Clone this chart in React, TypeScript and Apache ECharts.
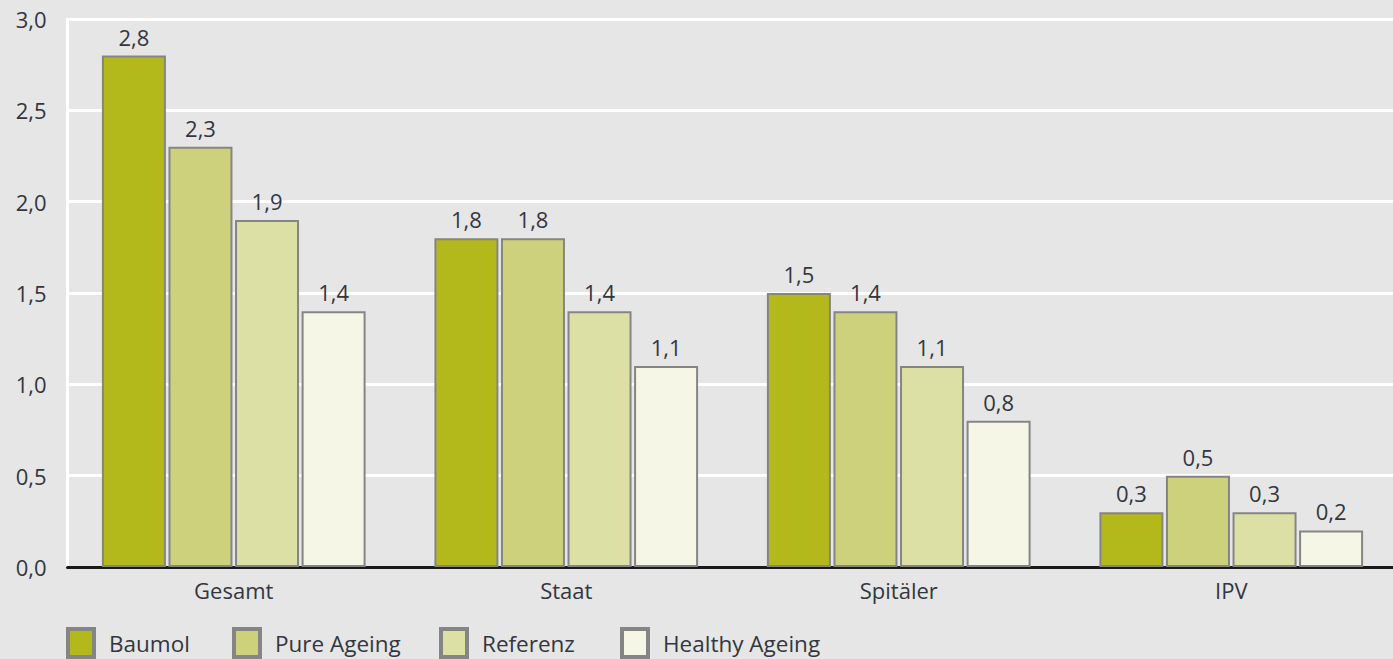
import React, { useEffect, useRef } from "react";
import * as echarts from "echarts";

const categories = ["Gesamt", "Staat", "Spitäler", "IPV"];
const seriesNames = ["Baumol", "Pure Ageing", "Referenz", "Healthy Ageing"];
const baumol = [2.8, 1.8, 1.5, 0.3];
const pureAgeing = [2.3, 1.8, 1.4, 0.5];
const referenz = [1.9, 1.4, 1.1, 0.3];
const healthyAgeing = [1.4, 1.1, 0.8, 0.2];
const seriesValues = [baumol, pureAgeing, referenz, healthyAgeing];
const colors = ["#b3b91a", "#cdd17b", "#dde0a4", "#f5f6e6"];
const legendLefts = [66, 232, 439, 620];

const FONT = "'Open Sans', 'Noto Sans', sans-serif";
const TEXT = "#333640";
const fmt = (v: number) => v.toFixed(1).replace(".", ",");

export default function App() {
  const ref = useRef<HTMLDivElement>(null);
  useEffect(() => {
    if (!ref.current) return;
    const chart = echarts.init(ref.current, undefined, { renderer: "svg" });
    chart.setOption({
      animation: false,
      backgroundColor: "#e6e6e6",
      textStyle: { fontFamily: FONT, color: TEXT },
      legend: seriesNames.map((name, i) => ({
        data: [name],
        left: legendLefts[i],
        top: 627,
        padding: 0,
        icon: "rect",
        itemWidth: 26,
        itemHeight: 28,
        itemStyle: { borderColor: "#858585", borderWidth: 4 },
        textStyle: {
          fontFamily: FONT,
          fontSize: 22.5,
          color: TEXT,
          padding: [0, 0, 0, 10],
        },
      })),
      grid: { left: 67.5, right: 2.5, top: 19, bottom: 92 },
      xAxis: {
        type: "category",
        data: categories,
        axisTick: { show: false },
        axisLine: { lineStyle: { color: "#1a1a1a", width: 3 } },
        axisLabel: { fontFamily: FONT, fontSize: 22, color: TEXT, margin: 12 },
      },
      yAxis: {
        type: "value",
        min: 0,
        max: 3,
        interval: 0.5,
        axisLine: { show: true, lineStyle: { color: "#ffffff", width: 3 } },
        axisTick: { show: false },
        splitLine: { lineStyle: { color: "#ffffff", width: 3 } },
        axisLabel: {
          fontFamily: FONT,
          fontSize: 22,
          color: TEXT,
          margin: 21,
          formatter: (v: number) => fmt(v),
        },
      },
      series: seriesNames.map((name, i) => ({
        name,
        type: "bar",
        data: seriesValues[i],
        barWidth: 64,
        barGap: "4%",
        itemStyle: { color: colors[i], borderColor: "#858585", borderWidth: 2 },
        label: {
          show: true,
          position: "top",
          distance: 8,
          fontFamily: FONT,
          fontSize: 22,
          color: TEXT,
          formatter: (p: any) => fmt(p.value),
        },
      })),
    });
    return () => chart.dispose();
  }, []);
  return (
    <div style={{ position: "fixed", left: 0, top: 0, width: 1393, height: 659, overflow: "hidden" }}>
      <div ref={ref} style={{ width: 1400, height: 659 }} />
    </div>
  );
}
